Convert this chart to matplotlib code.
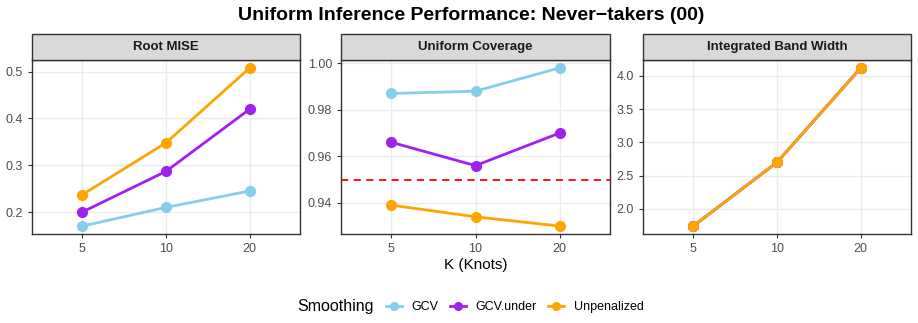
import matplotlib.pyplot as plt
from matplotlib.lines import Line2D
from matplotlib.patches import Rectangle

plt.rcParams['font.family'] = ['Liberation Sans', 'DejaVu Sans']

knots = ["5", "10", "20"]
methods = ["GCV", "GCV.under", "Unpenalized"]
colors = {"GCV": "#87CEEB", "GCV.under": "#A020F0", "Unpenalized": "#FFA500"}

rmise = {"GCV": [0.170, 0.210, 0.245],
         "GCV.under": [0.200, 0.287, 0.420],
         "Unpenalized": [0.237, 0.348, 0.508]}
coverage = {"GCV": [0.987, 0.988, 0.998],
            "GCV.under": [0.966, 0.956, 0.970],
            "Unpenalized": [0.939, 0.934, 0.930]}
width = {"GCV": [1.74, 2.70, 4.12],
         "GCV.under": [1.74, 2.70, 4.12],
         "Unpenalized": [1.74, 2.70, 4.12]}
nominal = 0.95

panels = [("Root MISE", rmise, [0.2, 0.3, 0.4, 0.5], "{:.1f}"),
          ("Uniform Coverage", coverage, [0.94, 0.96, 0.98, 1.00], "{:.2f}"),
          ("Integrated Band Width", width, [2.0, 2.5, 3.0, 3.5, 4.0], "{:.1f}")]

W, H = 918, 323
fig = plt.figure(figsize=(W / 100, H / 100), dpi=100)
lefts = [32, 341, 643]
rights = [300, 610, 911]
top, bottom = 60, 234
strip_h = 26

for i, (name, data, yt, fmt) in enumerate(panels):
    ax = fig.add_axes([lefts[i] / W, 1 - bottom / H, (rights[i] - lefts[i]) / W, (bottom - top) / H])
    xs = range(len(knots))
    allv = [v for m in methods for v in data[m]]
    lo, hi = min(allv), max(allv)
    pad = (hi - lo) * 0.05
    ax.set_ylim(lo - pad, hi + pad)
    ax.set_xlim(-0.6, len(knots) - 1 + 0.6)
    for m in methods:
        ax.plot(xs, data[m], color=colors[m], lw=2, marker='o', ms=7, zorder=3)
    if name == "Uniform Coverage":
        ax.axhline(nominal, color='#FF0000', ls=(0, (4, 3)), lw=1.3, zorder=2)
    ax.set_xticks(list(xs))
    ax.set_xticklabels(knots)
    ax.set_yticks(yt)
    ax.set_yticklabels([fmt.format(v) for v in yt])
    ax.tick_params(colors='#333333', labelsize=9, length=3, width=0.8)
    for lab in ax.get_xticklabels() + ax.get_yticklabels():
        lab.set_color('#4D4D4D')
    ax.grid(True, color='#EBEBEB', lw=1, zorder=0)
    ax.set_axisbelow(True)
    for s in ax.spines.values():
        s.set_color('#333333')
        s.set_linewidth(1)
    # strip
    fig.patches.append(Rectangle((lefts[i] / W, 1 - top / H), (rights[i] - lefts[i]) / W, strip_h / H,
                                 transform=fig.transFigure, facecolor='#D9D9D9',
                                 edgecolor='#333333', lw=1))
    fig.text((lefts[i] + rights[i]) / 2 / W, 1 - (top - strip_h / 2) / H, name,
             ha='center', va='center', fontsize=9.5, fontweight='bold', color='#1A1A1A')

fig.text((32 + 911) / 2 / W, 1 - 15 / H, "Uniform Inference Performance: Never\u2212takers (00)",
         ha='center', va='center', fontsize=14, fontweight='bold')
fig.text((341 + 610) / 2 / W, 1 - 265 / H, "K (Knots)", ha='center', va='center', fontsize=11)

handles = [Line2D([], [], color=colors[m], lw=2, marker='o', ms=5.5) for m in methods]
fig.text(297 / W, 1 - 307 / H, "Smoothing", ha='left', va='center', fontsize=11.5)
fig.legend(handles, methods, loc='center left', bbox_to_anchor=(386 / W, 1 - 307 / H),
           ncol=3, frameon=False, fontsize=9, handlelength=1.25, handletextpad=0.8,
           columnspacing=0.9, borderaxespad=0, borderpad=0)

fig.savefig("out.png", dpi=100)
